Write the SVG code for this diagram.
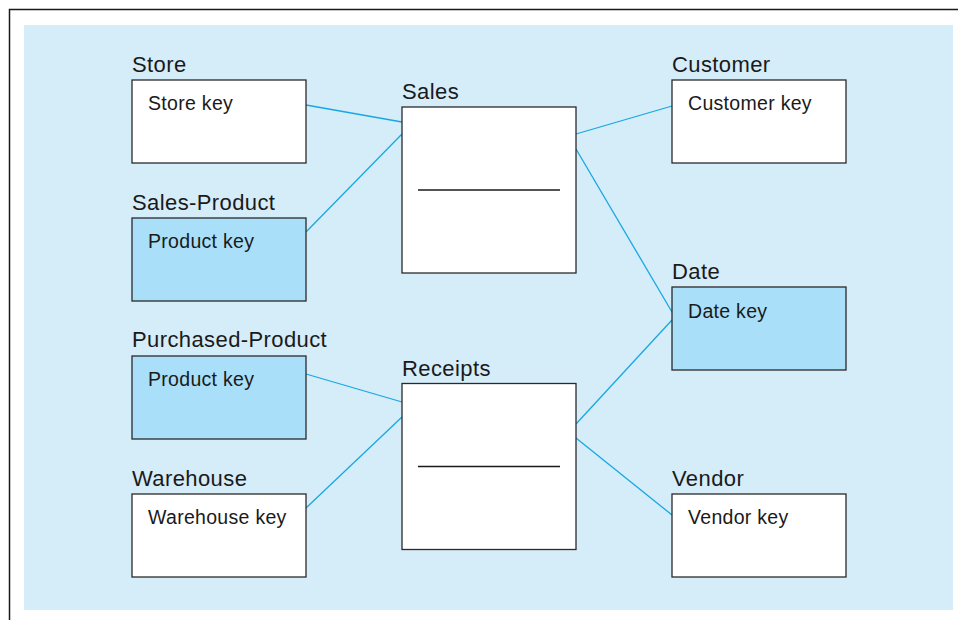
<svg xmlns="http://www.w3.org/2000/svg" width="958" height="620" viewBox="0 0 958 620">
<style>
.frame{stroke:#1a1a1a;stroke-width:1.5;fill:none}
.box{stroke:#2a2a2a;stroke-width:1.3;fill:#ffffff}
.box.blue{fill:#a9dff8}
.div{stroke:#1a1a1a;stroke-width:1.3}
.conn line{stroke:#17a8e3;stroke-width:1.3}
.title{font-family:"Liberation Sans",Arial,sans-serif;font-size:22px;letter-spacing:0.4px;fill:#1a1a1a}
.key{font-family:"Liberation Sans",Arial,sans-serif;font-size:19.5px;letter-spacing:0.3px;fill:#1a1a1a}
</style>
<rect width="958" height="620" fill="#ffffff"/>
<path class="frame" d="M9.5 620 V9.5 H958"/>
<rect x="24" y="25" width="929" height="585" fill="#d5ecf9"/>
<g class="conn" id="connectors">
<line x1="306" y1="105" x2="402" y2="122"/>
<line x1="306" y1="232" x2="402" y2="134"/>
<line x1="576" y1="134" x2="672" y2="106"/>
<line x1="576" y1="149" x2="672" y2="312"/>
<line x1="306" y1="374" x2="402" y2="402"/>
<line x1="306" y1="508" x2="402" y2="417"/>
<line x1="576" y1="424" x2="672" y2="320"/>
<line x1="576" y1="438" x2="672" y2="515"/>
</g>
<g id="store">
<text class="title" x="132" y="72">Store</text>
<rect class="box" x="132" y="80" width="174" height="83"/>
<text class="key" x="148" y="110">Store key</text>
</g>
<g id="sales-product">
<text class="title" x="132" y="210">Sales-Product</text>
<rect class="box blue" x="132" y="218" width="174" height="83"/>
<text class="key" x="148" y="248">Product key</text>
</g>
<g id="purchased-product">
<text class="title" x="132" y="347">Purchased-Product</text>
<rect class="box blue" x="132" y="356" width="174" height="83"/>
<text class="key" x="148" y="386">Product key</text>
</g>
<g id="warehouse">
<text class="title" x="132" y="486">Warehouse</text>
<rect class="box" x="132" y="494" width="174" height="83"/>
<text class="key" x="148" y="524">Warehouse key</text>
</g>
<g id="sales">
<text class="title" x="402" y="99">Sales</text>
<rect class="box" x="402" y="107" width="174" height="166"/>
<line class="div" x1="418" y1="190" x2="560" y2="190"/>
</g>
<g id="receipts">
<text class="title" x="402" y="376">Receipts</text>
<rect class="box" x="402" y="383.5" width="174" height="166"/>
<line class="div" x1="418" y1="466.5" x2="560" y2="466.5"/>
</g>
<g id="customer">
<text class="title" x="672" y="72">Customer</text>
<rect class="box" x="672" y="80" width="174" height="83"/>
<text class="key" x="688" y="110">Customer key</text>
</g>
<g id="date">
<text class="title" x="672" y="279">Date</text>
<rect class="box blue" x="672" y="287" width="174" height="83"/>
<text class="key" x="688" y="318">Date key</text>
</g>
<g id="vendor">
<text class="title" x="672" y="486">Vendor</text>
<rect class="box" x="672" y="494" width="174" height="83"/>
<text class="key" x="688" y="524">Vendor key</text>
</g>
</svg>
